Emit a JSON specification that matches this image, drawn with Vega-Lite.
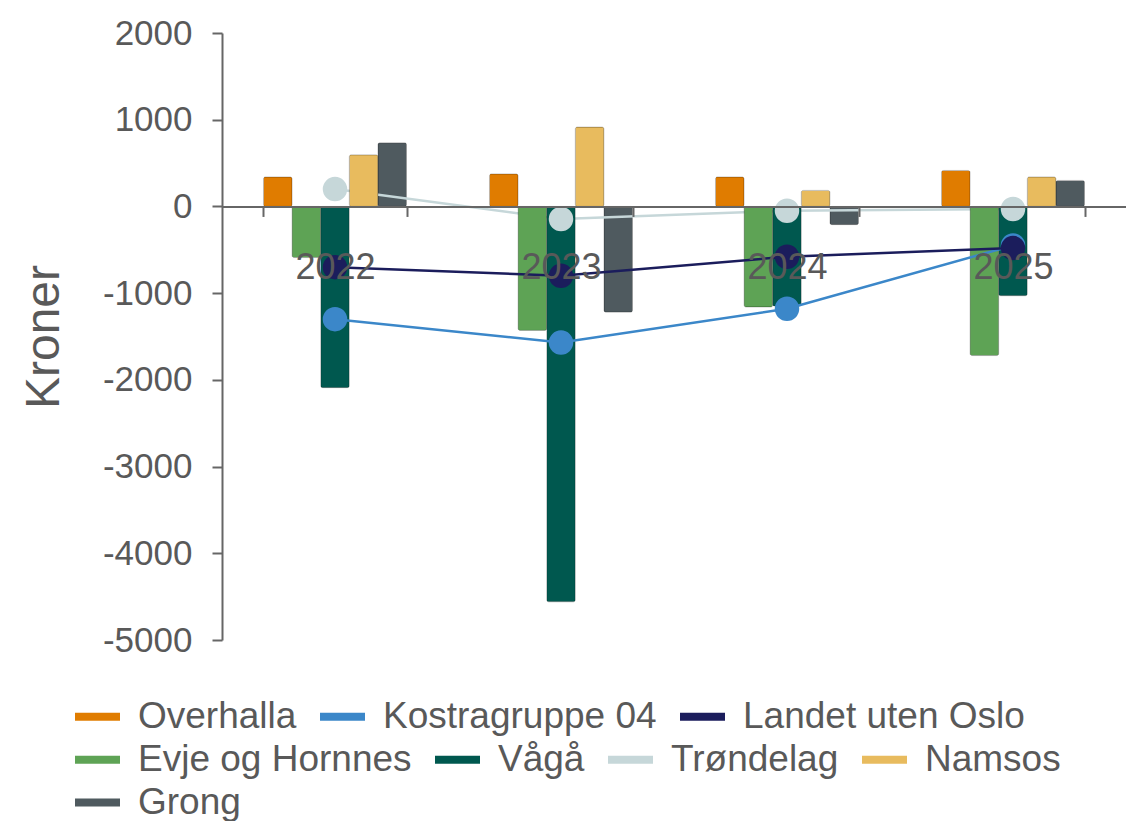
{
  "$schema": "https://vega.github.io/schema/vega-lite/v6.json",
  "width": 904,
  "height": 607,
  "autosize": {"type": "none"},
  "padding": {"left": 222, "top": 33, "right": 0, "bottom": 181},
  "background": "white",
  "datasets": {
    "bars": [
      {"year": "2022", "series": "Overhalla", "value": 340},
      {"year": "2022", "series": "Evje og Hornnes", "value": -590},
      {"year": "2022", "series": "Vågå", "value": -2090},
      {"year": "2022", "series": "Namsos", "value": 595},
      {"year": "2022", "series": "Grong", "value": 735},
      {"year": "2023", "series": "Overhalla", "value": 375},
      {"year": "2023", "series": "Evje og Hornnes", "value": -1430},
      {"year": "2023", "series": "Vågå", "value": -4560},
      {"year": "2023", "series": "Namsos", "value": 915},
      {"year": "2023", "series": "Grong", "value": -1220},
      {"year": "2024", "series": "Overhalla", "value": 340},
      {"year": "2024", "series": "Evje og Hornnes", "value": -1160},
      {"year": "2024", "series": "Vågå", "value": -1150},
      {"year": "2024", "series": "Namsos", "value": 185},
      {"year": "2024", "series": "Grong", "value": -210},
      {"year": "2025", "series": "Overhalla", "value": 415},
      {"year": "2025", "series": "Evje og Hornnes", "value": -1720},
      {"year": "2025", "series": "Vågå", "value": -1030},
      {"year": "2025", "series": "Namsos", "value": 340},
      {"year": "2025", "series": "Grong", "value": 300}
    ],
    "lines": [
      {"year": "2022", "series": "Kostragruppe 04", "value": -1300},
      {"year": "2023", "series": "Kostragruppe 04", "value": -1570},
      {"year": "2024", "series": "Kostragruppe 04", "value": -1180},
      {"year": "2025", "series": "Kostragruppe 04", "value": -450},
      {"year": "2022", "series": "Landet uten Oslo", "value": -700},
      {"year": "2023", "series": "Landet uten Oslo", "value": -800},
      {"year": "2024", "series": "Landet uten Oslo", "value": -580},
      {"year": "2025", "series": "Landet uten Oslo", "value": -480},
      {"year": "2022", "series": "Trøndelag", "value": 200},
      {"year": "2023", "series": "Trøndelag", "value": -145},
      {"year": "2024", "series": "Trøndelag", "value": -50},
      {"year": "2025", "series": "Trøndelag", "value": -30}
    ]
  },
  "encoding": {
    "x": {
      "field": "year",
      "type": "nominal",
      "scale": {"paddingInner": 0.367, "paddingOuter": 0.1835},
      "axis": {
        "title": null,
        "labelAngle": 0,
        "labelFontSize": 36,
        "labelPadding": 34,
        "tickBand": "extent",
        "tickSize": 10,
        "offset": -433.57,
        "zindex": 1
      }
    },
    "y": {
      "field": "value",
      "type": "quantitative",
      "scale": {"domain": [-5000, 2000], "nice": false, "zero": false},
      "axis": {
        "title": "Kroner",
        "titleFontSize": 48,
        "titlePadding": 34,
        "labelFontSize": 35,
        "labelPadding": 20,
        "tickSize": 10,
        "labelExpr": "'' + datum.value",
        "values": [-5000, -4000, -3000, -2000, -1000, 0, 1000, 2000]
      }
    }
  },
  "layer": [
    {
      "layer": [
        {
          "data": {"name": "bars"},
          "transform": [{"filter": {"field": "series", "oneOf": ["Grong"]}}],
          "mark": {"type": "bar", "cornerRadius": 2, "stroke": "#000", "strokeOpacity": 0.2, "strokeWidth": 1},
          "encoding": {
            "xOffset": {"field": "series", "type": "nominal", "scale": {"domain": ["Overhalla", "Evje og Hornnes", "Vågå", "Namsos", "Grong"]}},
            "color": {
              "field": "series", "type": "nominal",
              "scale": {"domain": ["Grong"], "range": ["#4f5a5f"]},
              "legend": {"orient": "none", "legendX": -147, "legendY": 747, "direction": "horizontal", "title": null}
            }
          }
        }
      ]
    },
    {
      "layer": [
        {
          "data": {"name": "lines"},
          "transform": [{"filter": {"field": "series", "oneOf": ["Trøndelag"]}}],
          "mark": {"type": "line", "strokeWidth": 2.5},
          "encoding": {
            "color": {"field": "series", "type": "nominal", "scale": {"domain": ["Evje og Hornnes", "Vågå", "Trøndelag", "Namsos"], "range": ["#5ea355", "#00584f", "#c6d7d9", "#e8bb5e"]},
              "legend": {"orient": "none", "legendX": -147, "legendY": 704, "direction": "horizontal", "title": null}}
          }
        },
        {
          "data": {"name": "bars"},
          "transform": [{"filter": {"field": "series", "oneOf": ["Evje og Hornnes", "Vågå", "Namsos"]}}],
          "mark": {"type": "bar", "cornerRadius": 2, "stroke": "#000", "strokeOpacity": 0.2, "strokeWidth": 1},
          "encoding": {
            "xOffset": {"field": "series", "type": "nominal", "scale": {"domain": ["Overhalla", "Evje og Hornnes", "Vågå", "Namsos", "Grong"]}},
            "color": {
              "field": "series", "type": "nominal",
              "scale": {"domain": ["Evje og Hornnes", "Vågå", "Trøndelag", "Namsos"], "range": ["#5ea355", "#00584f", "#c6d7d9", "#e8bb5e"]},
              "legend": {"orient": "none", "legendX": -147, "legendY": 704, "direction": "horizontal", "title": null}
            }
          }
        },
        {
          "data": {"name": "lines"},
          "transform": [{"filter": {"field": "series", "oneOf": ["Trøndelag"]}}],
          "mark": {"type": "point", "filled": true, "size": 600, "opacity": 1},
          "encoding": {
            "color": {"field": "series", "type": "nominal", "scale": {"domain": ["Evje og Hornnes", "Vågå", "Trøndelag", "Namsos"], "range": ["#5ea355", "#00584f", "#c6d7d9", "#e8bb5e"]},
              "legend": {"orient": "none", "legendX": -147, "legendY": 704, "direction": "horizontal", "title": null}}
          }
        }
      ]
    },
    {
      "layer": [
        {
          "data": {"name": "lines"},
          "transform": [{"filter": {"field": "series", "oneOf": ["Kostragruppe 04", "Landet uten Oslo"]}}],
          "mark": {"type": "line", "strokeWidth": 2.5},
          "encoding": {
            "color": {"field": "series", "type": "nominal", "scale": {"domain": ["Overhalla", "Kostragruppe 04", "Landet uten Oslo"], "range": ["#e07c00", "#3b87c9", "#1b1d5c"]},
              "legend": {"orient": "none", "legendX": -147, "legendY": 661, "direction": "horizontal", "title": null}}
          }
        },
        {
          "data": {"name": "bars"},
          "transform": [{"filter": {"field": "series", "oneOf": ["Overhalla"]}}],
          "mark": {"type": "bar", "cornerRadius": 2, "stroke": "#000", "strokeOpacity": 0.2, "strokeWidth": 1},
          "encoding": {
            "xOffset": {"field": "series", "type": "nominal", "scale": {"domain": ["Overhalla", "Evje og Hornnes", "Vågå", "Namsos", "Grong"]}},
            "color": {
              "field": "series", "type": "nominal",
              "scale": {"domain": ["Overhalla", "Kostragruppe 04", "Landet uten Oslo"], "range": ["#e07c00", "#3b87c9", "#1b1d5c"]},
              "legend": {"orient": "none", "legendX": -147, "legendY": 661, "direction": "horizontal", "title": null}
            }
          }
        },
        {
          "data": {"name": "lines"},
          "transform": [{"filter": {"field": "series", "oneOf": ["Kostragruppe 04", "Landet uten Oslo"]}}],
          "mark": {"type": "point", "filled": true, "size": 600, "opacity": 1},
          "encoding": {
            "color": {"field": "series", "type": "nominal", "scale": {"domain": ["Overhalla", "Kostragruppe 04", "Landet uten Oslo"], "range": ["#e07c00", "#3b87c9", "#1b1d5c"]},
              "legend": {"orient": "none", "legendX": -147, "legendY": 661, "direction": "horizontal", "title": null}}
          }
        }
      ]
    }
  ],
  "resolve": {"scale": {"color": "independent"}, "legend": {"color": "independent"}},
  "config": {
    "view": {"stroke": null},
    "font": "Liberation Sans",
    "axis": {
      "labelFont": "Liberation Sans",
      "titleFont": "Liberation Sans",
      "labelColor": "#595959",
      "titleColor": "#595959",
      "titleFontWeight": "normal",
      "domainColor": "#666666",
      "tickColor": "#666666",
      "domainWidth": 2,
      "tickWidth": 2,
      "grid": false
    },
    "legend": {
      "labelFont": "Liberation Sans",
      "labelFontSize": 37,
      "labelColor": "#595959",
      "symbolType": "M-1,-0.18L1,-0.18L1,0.18L-1,0.18Z",
      "symbolSize": 2025,
      "symbolStrokeWidth": 0,
      "symbolOpacity": 1,
      "labelOffset": 18,
      "columnPadding": 23,
      "labelLimit": 600,
      "padding": 0
    }
  }
}
